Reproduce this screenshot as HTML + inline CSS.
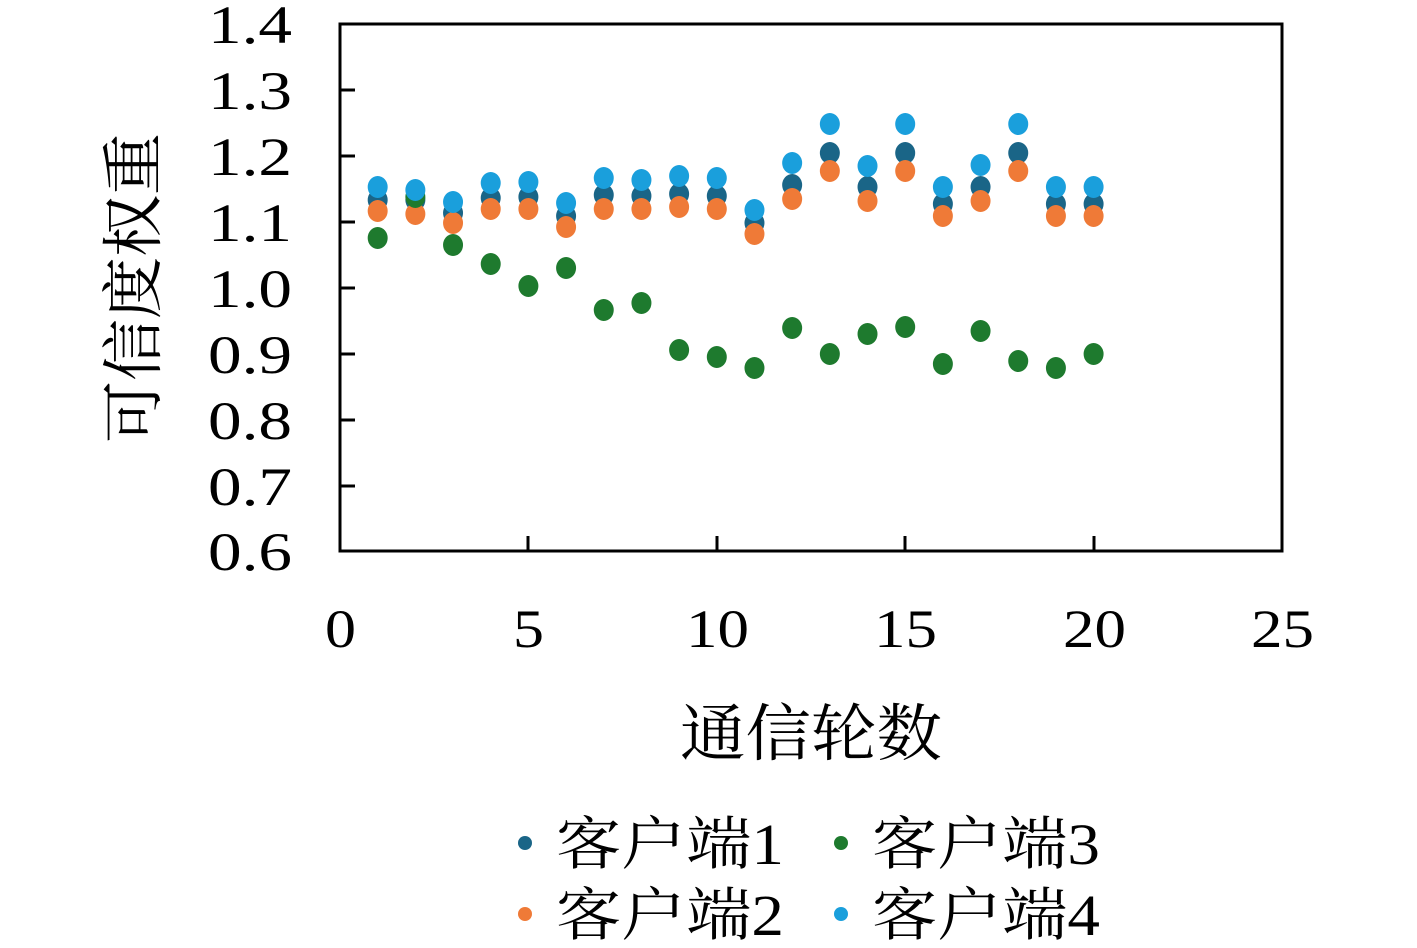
<!DOCTYPE html>
<html><head><meta charset="utf-8"><style>body{margin:0;background:#fff}</style></head><body>
<svg width="1417" height="943" xmlns="http://www.w3.org/2000/svg" font-family="Liberation Serif, Noto Serif CJK SC, serif">
<rect width="1417" height="943" fill="#fff"/>
<rect x="340" y="24" width="942" height="527" fill="none" stroke="#000" stroke-width="3"/>
<g stroke="#000" stroke-width="3">
<line x1="340" y1="90" x2="355" y2="90"/><line x1="340" y1="156" x2="355" y2="156"/><line x1="340" y1="222" x2="355" y2="222"/><line x1="340" y1="288" x2="355" y2="288"/><line x1="340" y1="354" x2="355" y2="354"/><line x1="340" y1="420" x2="355" y2="420"/><line x1="340" y1="486" x2="355" y2="486"/>
<line x1="528" y1="551" x2="528" y2="536"/><line x1="717" y1="551" x2="717" y2="536"/><line x1="905" y1="551" x2="905" y2="536"/><line x1="1094" y1="551" x2="1094" y2="536"/>
</g>
<g font-size="54" lengthAdjust="spacingAndGlyphs">
<text x="208" y="43" textLength="84" lengthAdjust="spacingAndGlyphs">1.4</text><text x="208" y="109" textLength="84" lengthAdjust="spacingAndGlyphs">1.3</text><text x="208" y="175" textLength="84" lengthAdjust="spacingAndGlyphs">1.2</text><text x="208" y="241" textLength="84" lengthAdjust="spacingAndGlyphs">1.1</text><text x="208" y="307" textLength="84" lengthAdjust="spacingAndGlyphs">1.0</text><text x="208" y="373" textLength="84" lengthAdjust="spacingAndGlyphs">0.9</text><text x="208" y="439" textLength="84" lengthAdjust="spacingAndGlyphs">0.8</text><text x="208" y="505" textLength="84" lengthAdjust="spacingAndGlyphs">0.7</text><text x="208" y="570" textLength="84" lengthAdjust="spacingAndGlyphs">0.6</text>
</g>
<g font-size="54">
<text x="325" y="647" textLength="31" lengthAdjust="spacingAndGlyphs">0</text><text x="513" y="647" textLength="31" lengthAdjust="spacingAndGlyphs">5</text><text x="686" y="647" textLength="63" lengthAdjust="spacingAndGlyphs">10</text><text x="874" y="647" textLength="63" lengthAdjust="spacingAndGlyphs">15</text><text x="1063" y="647" textLength="63" lengthAdjust="spacingAndGlyphs">20</text><text x="1251" y="647" textLength="63" lengthAdjust="spacingAndGlyphs">25</text>
</g>
<text x="680" y="755" font-size="62" textLength="262" lengthAdjust="spacingAndGlyphs">通信轮数</text>
<text transform="translate(155,288) rotate(-90)" font-size="62" text-anchor="middle">可信度权重</text>
<g id="pts"></g>
<g font-size="58">
<circle cx="525" cy="843" r="7" fill="#1a6587"/><text x="556" y="864" textLength="228" lengthAdjust="spacingAndGlyphs">客户端1</text>
<circle cx="525" cy="914" r="7" fill="#ef7a37"/><text x="556" y="935" textLength="228" lengthAdjust="spacingAndGlyphs">客户端2</text>
<circle cx="841" cy="843" r="7" fill="#1e7a2e"/><text x="872" y="864" textLength="228" lengthAdjust="spacingAndGlyphs">客户端3</text>
<circle cx="841" cy="914" r="7" fill="#1a9fdc"/><text x="872" y="935" textLength="228" lengthAdjust="spacingAndGlyphs">客户端4</text>
</g>
</svg>
<script>
var d={"#1a6587":[200,200,213,198,197,216,195,196,194,196,223,185,153,187,153,204,187,153,204,204],
"#ef7a37":[211,214,223,209,209,227,209,209,207,209,234,199,171,201,171,216,201,171,216,216],
"#1e7a2e":[238,197,245,264,286,268,310,303,350,357,368,328,354,334,327,364,331,361,368,354],
"#1a9fdc":[187,190,202,183,182,203,178,180,176,178,210,163,124,166,124,187,165,124,187,187]};
var g=document.getElementById("pts"),s="";
for(var c in d){d[c].forEach(function(y,i){s+='<ellipse cx="'+(340+37.68*(i+1))+'" cy="'+y+'" rx="10" ry="11" fill="'+c+'"/>';});}
g.innerHTML=s;
</script>
</body></html>
